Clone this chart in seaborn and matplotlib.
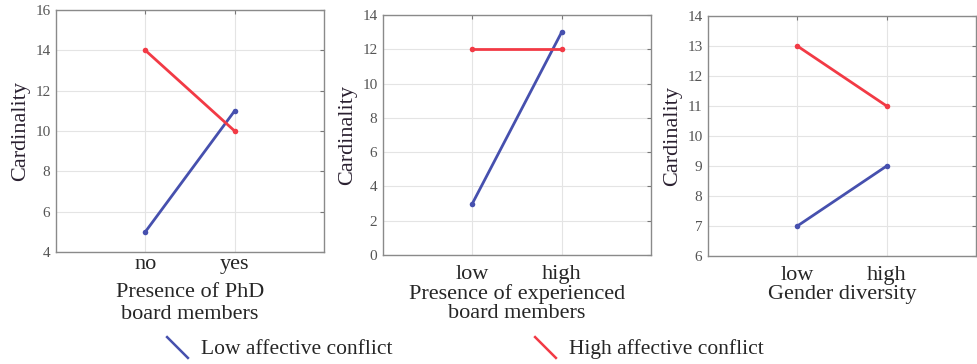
import pandas as pd
import seaborn as sns
import matplotlib.pyplot as plt
from matplotlib.lines import Line2D

groups = ["Low affective conflict", "High affective conflict"]
colors = ["#4650ae", "#f23a45"]

phd_levels = ["no", "yes"]
phd_low = [5, 11]
phd_high = [14, 10]

exp_levels = ["low", "high"]
exp_low = [3, 13]
exp_high = [12, 12]

gender_levels = ["low", "high"]
gender_low = [7, 9]
gender_high = [13, 11]

xlabels = ["Presence of PhD\nboard members",
           "Presence of experienced\nboard members",
           "Gender diversity"]
ylims = [(4, 16), (0, 14), (6, 14)]
ysteps = [2, 2, 1]

panels = [
    (phd_levels, phd_low, phd_high),
    (exp_levels, exp_low, exp_high),
    (gender_levels, gender_low, gender_high),
]

sns.set_style("white")
plt.rcParams["font.family"] = ["Liberation Serif", "DejaVu Serif"]

fig = plt.figure(figsize=(9.78, 3.64), dpi=100)
boxes = [(56, 10, 268, 242), (383, 15, 268, 240), (708, 16, 268, 240)]
tickpads = [2, 7, 7]
labelpads = [6.5, 0.5, 0.5]
linesp = [1.25, 1.0, 1.0]

for i, (levels, low, high) in enumerate(panels):
    x0, top, w, h = boxes[i]
    ax = fig.add_axes([x0 / 978, 1 - (top + h) / 364, w / 978, h / 364])
    df = pd.DataFrame({
        "level": levels * 2,
        "value": low + high,
        "group": [groups[0]] * 2 + [groups[1]] * 2,
    })
    df["pos"] = [0, 1, 0, 1]
    sns.lineplot(data=df, x="pos", y="value", hue="group", palette=colors,
                 marker="o", markersize=4, markeredgewidth=0, linewidth=2,
                 legend=False, ax=ax)
    ax.set_xlim(-1, 2)
    ax.set_xticks([0, 1])
    ax.set_xticklabels(levels, fontsize=16)
    lo, hi = ylims[i]
    ax.set_ylim(lo, hi)
    ax.set_yticks(range(lo, hi + 1, ysteps[i]))
    ax.tick_params(axis="y", labelsize=11, labelcolor="#555555", length=3,
                   direction="in", right=True, color="#777777", pad=4)
    ax.tick_params(axis="x", length=3, direction="in", top=True,
                   color="#777777", pad=tickpads[i])
    ax.grid(True, color="#e4e4e4", linewidth=0.8)
    for s in ax.spines.values():
        s.set_color("#8a8a8a")
        s.set_linewidth(1.0)
    ax.set_xlabel(xlabels[i], fontsize=16, labelpad=labelpads[i],
                  linespacing=linesp[i])
    ax.set_ylabel("Cardinality", fontsize=16, color="#2a2030", labelpad=4)

handles = [Line2D([], [], color=c, linestyle="none", marker=(2, 0, 45),
                  markersize=23, markeredgewidth=1.8) for c in colors]
fig.legend(handles, groups, loc="center", ncol=2, frameon=False,
           bbox_to_anchor=(464 / 978, 1 - 349 / 364), fontsize=15.5,
           handlelength=1.2, handletextpad=0.5, columnspacing=6.5)

fig.savefig("out.png", dpi=100)
